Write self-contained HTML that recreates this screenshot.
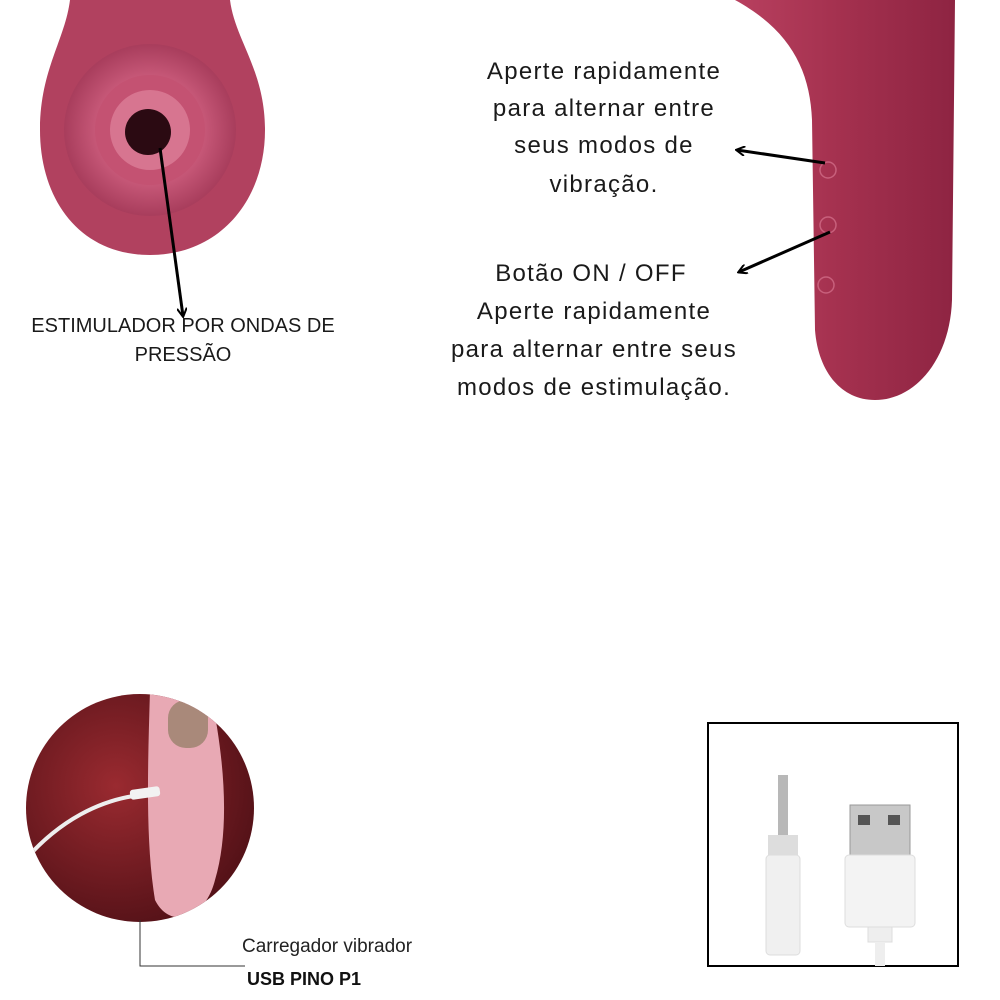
<!DOCTYPE html>
<html><head><meta charset="utf-8"><style>
body{margin:0;width:1000px;height:1000px;background:#fff;overflow:hidden;position:relative;font-family:"Liberation Sans",sans-serif;}
.t{position:absolute;color:#1a1a1a;white-space:nowrap;transform:translateX(-50%);}
.r{font-size:24px;letter-spacing:1.3px;}
</style></head><body>
<svg width="1000" height="1000" style="position:absolute;left:0;top:0">
<defs>
<radialGradient id="g1" cx="50%" cy="50%" r="50%"><stop offset="0" stop-color="#d86e8c"/><stop offset="0.6" stop-color="#c95a7a"/><stop offset="1" stop-color="#a83d5c"/></radialGradient>
<linearGradient id="g2" x1="0" x2="1"><stop offset="0" stop-color="#b8405f"/><stop offset="0.5" stop-color="#a3304e"/><stop offset="1" stop-color="#8e2442"/></linearGradient>
<radialGradient id="g3" cx="40%" cy="40%" r="70%"><stop offset="0" stop-color="#9a2a30"/><stop offset="1" stop-color="#4a0e14"/></radialGradient>
<clipPath id="c1"><circle cx="140" cy="808" r="114"/></clipPath>
<marker id="ar" markerWidth="10" markerHeight="10" refX="8" refY="5" orient="auto" markerUnits="userSpaceOnUse"><path d="M0,0 L9,5 L0,10" fill="none" stroke="#000" stroke-width="2"/></marker>
</defs>
<path d="M70,0 L230,0 C235,40 265,70 265,130 C265,200 220,255 150,255 C80,255 40,200 40,130 C40,70 65,40 70,0Z" fill="#b1415f"/>
<circle cx="150" cy="130" r="86" fill="url(#g1)"/>
<circle cx="150" cy="130" r="55" fill="#c45272"/>
<circle cx="150" cy="130" r="40" fill="#d77590"/>
<circle cx="148" cy="132" r="23" fill="#2b0a12"/>
<line x1="160" y1="148" x2="183" y2="316" stroke="#000" stroke-width="3" marker-end="url(#ar)"/>
<path d="M735,0 L955,0 L952,300 C950,360 915,400 875,400 C840,400 818,370 815,330 L812,120 C810,70 790,30 735,0Z" fill="url(#g2)"/>
<circle cx="828" cy="170" r="8" fill="none" stroke="#c8607c" stroke-width="1.5"/>
<circle cx="828" cy="225" r="8" fill="none" stroke="#c8607c" stroke-width="1.5"/>
<circle cx="826" cy="285" r="8" fill="none" stroke="#c8607c" stroke-width="1.5"/>
<line x1="825" y1="163" x2="737" y2="150" stroke="#000" stroke-width="3" marker-end="url(#ar)"/>
<line x1="830" y1="232" x2="739" y2="272" stroke="#000" stroke-width="3" marker-end="url(#ar)"/>
<g clip-path="url(#c1)">
<rect x="20" y="690" width="240" height="240" fill="url(#g3)"/>
<path d="M150,690 L210,690 C225,760 230,830 215,880 C205,920 170,930 155,900 C145,840 148,760 150,690Z" fill="#e8a9b4"/>
<rect x="168" y="700" width="40" height="48" rx="18" fill="#a9897a"/>
<path d="M25,860 C60,820 100,800 140,795" fill="none" stroke="#eee" stroke-width="4"/>
<rect x="130" y="788" width="30" height="10" rx="3" fill="#f2f2f2" transform="rotate(-8 145 793)"/>
</g>
<polyline points="140,920 140,966 245,966" fill="none" stroke="#333" stroke-width="1"/>
<rect x="708" y="723" width="250" height="243" fill="#fff" stroke="#000" stroke-width="2"/>
<rect x="778" y="775" width="10" height="60" fill="#b8b8b8"/>
<rect x="768" y="835" width="30" height="20" fill="#ddd"/>
<rect x="766" y="855" width="34" height="100" rx="4" fill="#f0f0f0" stroke="#ddd"/>
<rect x="850" y="805" width="60" height="50" fill="#c8c8c8" stroke="#999"/>
<rect x="858" y="815" width="12" height="10" fill="#555"/><rect x="888" y="815" width="12" height="10" fill="#555"/>
<rect x="845" y="855" width="70" height="72" rx="4" fill="#f3f3f3" stroke="#ddd"/>
<rect x="868" y="927" width="24" height="15" fill="#eee" stroke="#ddd"/>
<rect x="875" y="942" width="10" height="24" fill="#eee"/>
</svg>
<div class="t" style="left:183px;top:315px;font-size:20px;">ESTIMULADOR POR ONDAS DE</div>
<div class="t" style="left:183px;top:344px;font-size:20px;">PRESSÃO</div>
<div class="t r" style="left:604px;top:58px">Aperte rapidamente</div>
<div class="t r" style="left:604px;top:95px">para alternar entre</div>
<div class="t r" style="left:604px;top:132px">seus modos de</div>
<div class="t r" style="left:604px;top:171px">vibração.</div>
<div class="t r" style="left:591px;top:260px">Botão ON / OFF</div>
<div class="t r" style="left:594px;top:298px">Aperte rapidamente</div>
<div class="t r" style="left:594px;top:336px">para alternar entre seus</div>
<div class="t r" style="left:594px;top:374px">modos de estimulação.</div>
<div style="position:absolute;left:242px;top:936px;font-size:19px;color:#222">Carregador vibrador</div>
<div style="position:absolute;left:247px;top:969px;font-size:18px;font-weight:bold;color:#111">USB PINO P1</div>
</body></html>
